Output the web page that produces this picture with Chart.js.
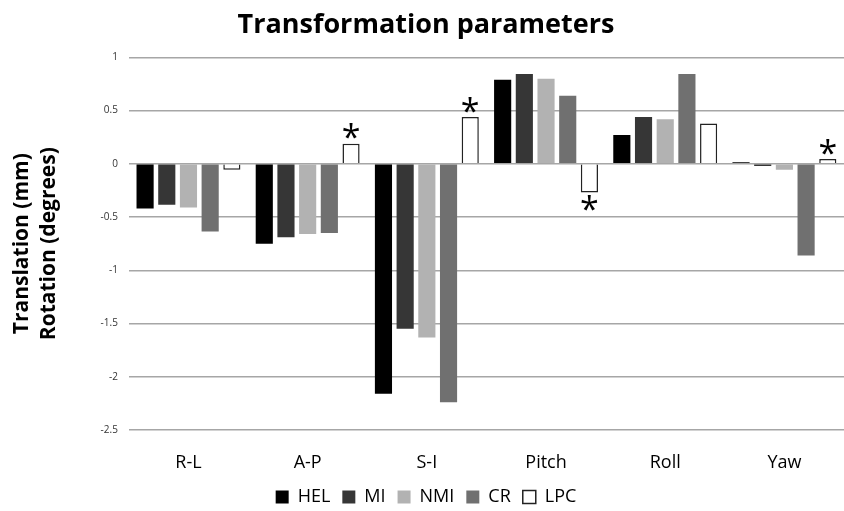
<!DOCTYPE html>
<html>
<head>
<meta charset="utf-8">
<script src="https://cdn.jsdelivr.net/npm/chart.js@4.4.0/dist/chart.umd.min.js"></script>
<style>
  html, body { margin: 0; padding: 0; background: #fff; }
  #wrap { width: 844px; height: 511px; }
</style>
</head>
<body>
<div id="wrap"><canvas id="tpChart"></canvas></div>
<script>
// Transformation parameters per registration method
const categories = ['R-L', 'A-P', 'S-I', 'Pitch', 'Roll', 'Yaw'];
const helValues = [-0.42, -0.75, -2.16, 0.79, 0.27, 0.015];
const miValues  = [-0.385, -0.69, -1.55, 0.845, 0.44, -0.02];
const nmiValues = [-0.41, -0.66, -1.63, 0.80, 0.42, -0.055];
const crValues  = [-0.635, -0.65, -2.24, 0.64, 0.845, -0.86];
const lpcValues = [-0.055, 0.19, 0.44, -0.27, 0.38, 0.045];
// categories where LPC differs significantly (marked with *)
const lpcStars = [false, true, true, true, false, true];

// draws the asterisks next to the LPC bars
const starPlugin = {
    id: 'stars',
    afterDatasetsDraw: function(chart) {
        const ctx = chart.ctx;
        const meta = chart.getDatasetMeta(4);
        ctx.save();
        ctx.fillStyle = '#000';
        ctx.font = '34px "Open Sans", sans-serif';
        ctx.textAlign = 'center';
        ctx.textBaseline = 'middle';
        meta.data.forEach(function(bar, i) {
            if (!lpcStars[i]) return;
            const v = lpcValues[i];
            const y = v >= 0 ? bar.y - 4 : bar.y + 19;
            ctx.fillText('*', bar.x, y);
        });
        ctx.restore();
    }
};

const ctx = document.getElementById('tpChart').getContext('2d');
new Chart(ctx, {
    type: 'bar',
    data: {
        labels: categories,
        datasets: [
            { label: 'HEL', data: helValues, backgroundColor: '#000000', borderWidth: 0 },
            { label: 'MI', data: miValues, backgroundColor: '#363636', borderWidth: 0 },
            { label: 'NMI', data: nmiValues, backgroundColor: '#b2b2b2', borderWidth: 0 },
            { label: 'CR', data: crValues, backgroundColor: '#707070', borderWidth: 0 },
            { label: 'LPC', data: lpcValues, backgroundColor: '#ffffff', borderColor: '#222222', borderWidth: 1.5 }
        ]
    },
    options: {
        responsive: true,
        maintainAspectRatio: false,
        animation: false,
        categoryPercentage: 0.91,
        barPercentage: 0.79,
        layout: {
            padding: { left: 8, right: 0, top: 0, bottom: -5 }
        },
        plugins: {
            title: {
                display: true,
                text: 'Transformation parameters',
                color: '#000',
                font: { family: '"Open Sans", sans-serif', size: 27, weight: 'bold' },
                padding: { top: 9, bottom: 16 }
            },
            legend: {
                position: 'bottom',
                labels: {
                    color: '#000',
                    boxWidth: 13,
                    boxHeight: 13,
                    padding: 12,
                    font: { family: '"Open Sans", sans-serif', size: 18 }
                }
            },
            tooltip: { enabled: false }
        },
        scales: {
            x: {
                grid: { display: false, drawTicks: false },
                border: { display: false },
                ticks: {
                    color: '#000',
                    padding: 22,
                    font: { family: '"Open Sans", sans-serif', size: 18 }
                },
                afterFit: function(scale) {
                    scale.height = 46;
                }
            },
            y: {
                min: -2.5,
                max: 1,
                grid: { color: '#a6a6a6', lineWidth: 1.5, drawTicks: false },
                border: { display: false },
                ticks: {
                    stepSize: 0.5,
                    color: '#333',
                    padding: 11,
                    font: { family: '"Open Sans", sans-serif', size: 10 },
                    callback: function(value) {
                        return String(Number(value.toFixed(1)));
                    }
                },
                title: {
                    display: true,
                    text: ['Translation (mm)', 'Rotation (degrees)'],
                    color: '#000',
                    font: { family: '"Open Sans", sans-serif', size: 21, weight: 'bold', lineHeight: 1.3 },
                    padding: { top: 0, bottom: 27 }
                }
            }
        }
    },
    plugins: [starPlugin]
});
</script>
</body>
</html>
